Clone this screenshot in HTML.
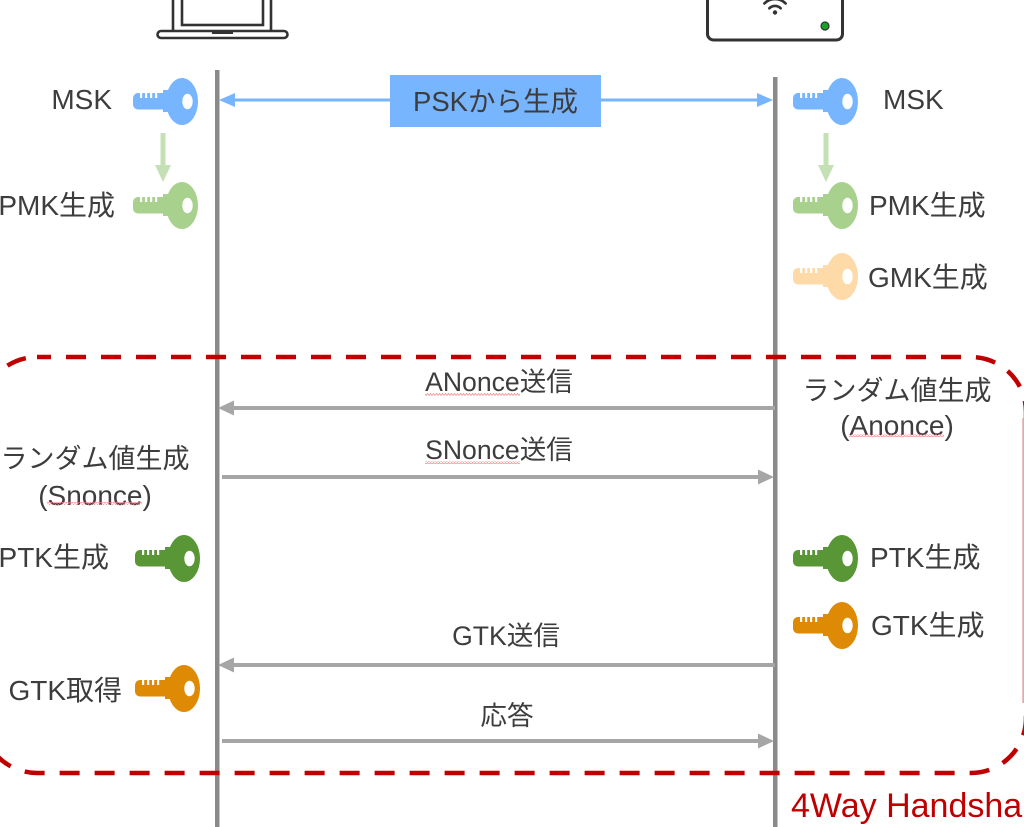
<!DOCTYPE html>
<html>
<head>
<meta charset="utf-8">
<style>
html,body{margin:0;padding:0;background:#fff;}
body{width:1024px;height:827px;overflow:hidden;}
svg{display:block;}
text{font-family:"Liberation Sans","Noto Sans CJK JP",sans-serif;fill:#3d3d3d;}
</style>
</head>
<body>
<svg width="1024" height="827" viewBox="0 0 1024 827" xmlns="http://www.w3.org/2000/svg">
  <defs>
    <symbol id="key" viewBox="0 0 65 47" width="65" height="47">
      <ellipse cx="49" cy="23.5" rx="16" ry="23.5" fill="currentColor"/>
      <rect x="0" y="15" width="42" height="16.5" rx="5" fill="currentColor"/>
      <rect x="30" y="12" width="14" height="22" fill="currentColor"/>
      <rect x="7" y="14" width="2.2" height="6" fill="#fff"/>
      <rect x="12" y="14" width="2.2" height="6" fill="#fff"/>
      <rect x="17" y="14" width="2.2" height="6" fill="#fff"/>
      <rect x="22" y="14" width="2.2" height="6" fill="#fff"/>
      <ellipse cx="54.5" cy="23.5" rx="5.2" ry="7.8" fill="#fff"/>
    </symbol>
    <pattern id="wavy" width="3" height="3" patternUnits="userSpaceOnUse">
      <path d="M0 2.5 L1.5 0.5 L3 2.5" fill="none" stroke="#f08a8a" stroke-width="0.8"/>
    </pattern>
  </defs>

  <!-- Laptop -->
  <g fill="none" stroke="#333" stroke-width="2.6">
    <path d="M173 -5 L173 31"/>
    <path d="M271 -5 L271 31"/>
    <rect x="182" y="-10" width="81" height="35"/>
    <rect x="157.5" y="31" width="130" height="7" rx="3.5"/>
  </g>
  <rect x="212" y="31" width="21" height="3" fill="#333"/>

  <!-- Router -->
  <rect x="707.5" y="-20" width="135" height="60" rx="6" fill="none" stroke="#333" stroke-width="3"/>
  <g fill="none" stroke="#333" stroke-width="2.6" stroke-linecap="round">
    <path d="M769.3 8.3 A8 8 0 0 1 780.7 8.3"/>
    <path d="M764.4 3.4 A15 15 0 0 1 785.6 3.4"/>
  </g>
  <circle cx="775" cy="12.5" r="2.2" fill="#333"/>
  <circle cx="825" cy="26" r="4" fill="#16a226" stroke="#333" stroke-width="1.2"/>

  <!-- Lifelines -->
  <rect x="215" y="70" width="4.5" height="757" fill="#8a8a8a"/>
  <rect x="773" y="77" width="4.5" height="750" fill="#8a8a8a"/>

  <!-- Red dashed rounded rect -->
  <rect x="-18" y="357" width="1044" height="416" rx="55" ry="55" fill="none" stroke="#c00000" stroke-width="4.5" stroke-dasharray="20 15" stroke-dashoffset="6"/>
  <rect x="1022.3" y="418" width="1.7" height="285" fill="#e6a8a8"/>

  <!-- Blue PSK arrow -->
  <line x1="230" y1="100" x2="762" y2="100" stroke="#78b5ff" stroke-width="3"/>
  <polygon points="219,100 235,93 235,107" fill="#78b5ff"/>
  <polygon points="773,100 757,93 757,107" fill="#78b5ff"/>
  <rect x="390" y="75" width="211" height="52" fill="#78b5ff"/>
  <text x="495.5" y="111" font-size="27.5" text-anchor="middle">PSKから生成</text>

  <!-- Keys left -->
  <use href="#key" x="133" y="78" style="color:#78b5ff"/>
  <use href="#key" x="133" y="182" style="color:#a9d18e"/>
  <use href="#key" x="135" y="535" style="color:#589636"/>
  <use href="#key" x="135" y="665" style="color:#de8a05"/>

  <!-- Keys right -->
  <use href="#key" x="793" y="78" style="color:#78b5ff"/>
  <use href="#key" x="793" y="182" style="color:#a9d18e"/>
  <use href="#key" x="793" y="253" style="color:#fedaa8"/>
  <use href="#key" x="793" y="535" style="color:#589636"/>
  <use href="#key" x="793" y="602" style="color:#de8a05"/>

  <!-- Small green arrows -->
  <rect x="160.5" y="133" width="5" height="34" fill="#c5e0b4"/>
  <polygon points="155,165 171,165 163,182" fill="#c5e0b4"/>
  <rect x="823.5" y="133" width="5" height="34" fill="#c5e0b4"/>
  <polygon points="818,165 834,165 826,182" fill="#c5e0b4"/>

  <!-- Left labels -->
  <text x="112" y="109" font-size="28" text-anchor="end">MSK</text>
  <text x="115" y="215" font-size="28" text-anchor="end">PMK生成</text>
  <text x="95" y="468" font-size="27" text-anchor="middle">ランダム値生成</text>
  <text x="95" y="505" font-size="28" text-anchor="middle">(Snonce)</text>
  <rect x="47" y="502" width="95" height="3" fill="url(#wavy)"/>
  <text x="109" y="567" font-size="28" text-anchor="end">PTK生成</text>
  <text x="122" y="700" font-size="28" text-anchor="end">GTK取得</text>

  <!-- Right labels -->
  <text x="883" y="109" font-size="28">MSK</text>
  <text x="869" y="215" font-size="28">PMK生成</text>
  <text x="868" y="287" font-size="28">GMK生成</text>
  <text x="897" y="400" font-size="27" text-anchor="middle">ランダム値生成</text>
  <text x="897" y="435" font-size="28" text-anchor="middle">(Anonce)</text>
  <rect x="849" y="434" width="95" height="3" fill="url(#wavy)"/>
  <text x="870" y="567" font-size="28">PTK生成</text>
  <text x="871" y="635" font-size="28">GTK生成</text>

  <!-- Message arrows -->
  <text x="499" y="391" font-size="26.6" text-anchor="middle">ANonce送信</text>
  <rect x="425" y="393" width="95" height="3" fill="url(#wavy)"/>
  <line x1="230" y1="408" x2="775" y2="408" stroke="#a6a6a6" stroke-width="4"/>
  <polygon points="218,408 234,400.5 234,415.5" fill="#a6a6a6"/>

  <text x="499" y="459" font-size="26.6" text-anchor="middle">SNonce送信</text>
  <rect x="425" y="461" width="95" height="3" fill="url(#wavy)"/>
  <line x1="222" y1="477" x2="762" y2="477" stroke="#a6a6a6" stroke-width="4"/>
  <polygon points="774,477 758,469.5 758,484.5" fill="#a6a6a6"/>

  <text x="506" y="645" font-size="26.6" text-anchor="middle">GTK送信</text>
  <line x1="230" y1="665" x2="775" y2="665" stroke="#a6a6a6" stroke-width="4"/>
  <polygon points="218,665 234,657.5 234,672.5" fill="#a6a6a6"/>

  <text x="507" y="725" font-size="26.6" text-anchor="middle">応答</text>
  <line x1="222" y1="741" x2="762" y2="741" stroke="#a6a6a6" stroke-width="4"/>
  <polygon points="774,741 758,733.5 758,748.5" fill="#a6a6a6"/>

  <!-- 4Way Handshake label -->
  <text x="791" y="817" font-size="34" style="fill:#c00000">4Way Handshake</text>
</svg>
</body>
</html>
